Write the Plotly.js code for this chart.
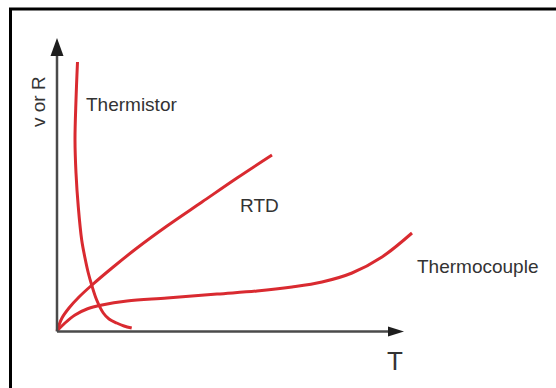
<!DOCTYPE html>
<html>
<head>
<meta charset="utf-8">
<script src="https://cdn.plot.ly/plotly-3.0.1.min.js"></script>
<style>html,body{margin:0;padding:0;background:#fff;}#chart{width:556px;height:388px;}</style>
</head>
<body>
<div id="chart"></div>
<script>
// Series (T on x, v or R on y), in arbitrary sketch units
const thermistorT = [20.5, 19, 18, 19, 21.3, 24.7, 28, 31.3, 34.7, 39.7, 46.3, 52, 59.7, 67, 74.7];
const thermistorR = [269, 231, 191, 158, 124, 91, 73, 58, 46, 31, 18, 12, 8, 5, 3];

const rtdT = [0, 5, 12, 22, 35, 55, 80, 110, 145, 180, 215];
const rtdR = [0, 13, 23, 34, 46, 63, 83, 105, 129, 153, 176];

const tcT = [0, 8, 18, 30, 45, 70, 110, 160, 200, 235, 265, 295, 325, 355];
const tcV = [0, 8, 16, 22, 26, 30, 33, 37, 40, 44, 49, 58, 74, 98];

const seriesLabels = ["Thermistor", "RTD", "Thermocouple"];
const xTitle = "T";
const yTitle = "v or R";

const red = "#d92a30";
const textColor = "#333333";
const font = "Liberation Sans, Arial, Helvetica, sans-serif";

function curve(x, y) {
  return {x: x, y: y, type: "scatter", mode: "lines",
    line: {color: red, width: 3, shape: "spline", smoothing: 1},
    hoverinfo: "skip", showlegend: false};
}

const data = [curve(thermistorT, thermistorR), curve(rtdT, rtdR), curve(tcT, tcV)];

const annText = (text, x, y, size, xanchor, angle) => ({
  text: text, x: x, y: y, xref: "x", yref: "y", showarrow: false,
  xanchor: xanchor, yanchor: "middle", textangle: angle || 0,
  font: {family: font, size: size, color: textColor}
});

const layout = {
  width: 556, height: 388,
  margin: {l: 0, r: 0, t: 0, b: 0},
  paper_bgcolor: "#fff", plot_bgcolor: "#fff",
  xaxis: {range: [-57, 499], visible: false, fixedrange: true},
  yaxis: {range: [-57, 331], visible: false, fixedrange: true},
  shapes: [
    // frame (top and left)
    {type: "line", x0: -46.5, y0: -60, x1: -46.5, y1: 322, line: {color: "#000", width: 3}},
    {type: "line", x0: -48, y0: 322, x1: 505, y1: 322, line: {color: "#000", width: 3}},
    // axes
    {type: "line", x0: 0, y0: -0.5, x1: 0, y1: 280, line: {color: "#4a4a4a", width: 2.5}},
    {type: "line", x0: 0, y0: -0.5, x1: 334, y1: -0.5, line: {color: "#4a4a4a", width: 2.5}},
    // arrowheads
    {type: "path", path: "M 0 293 L -6.5 275 L 6.5 275 Z", fillcolor: "#1e1e1e", line: {width: 0}},
    {type: "path", path: "M 347 -0.5 L 331 -5.5 L 331 4.5 Z", fillcolor: "#1e1e1e", line: {width: 0}}
  ],
  annotations: [
    annText(seriesLabels[0], 27, 227, 19, "left"),
    annText(seriesLabels[1], 181, 126, 19, "left"),
    annText(seriesLabels[2], 358, 65, 19, "left"),
    annText(xTitle, 338, -30, 26, "center"),
    annText(yTitle, -19, 229, 19, "center", -90)
  ]
};

Plotly.newPlot("chart", data, layout, {displayModeBar: false, staticPlot: true});
</script>
</body>
</html>
